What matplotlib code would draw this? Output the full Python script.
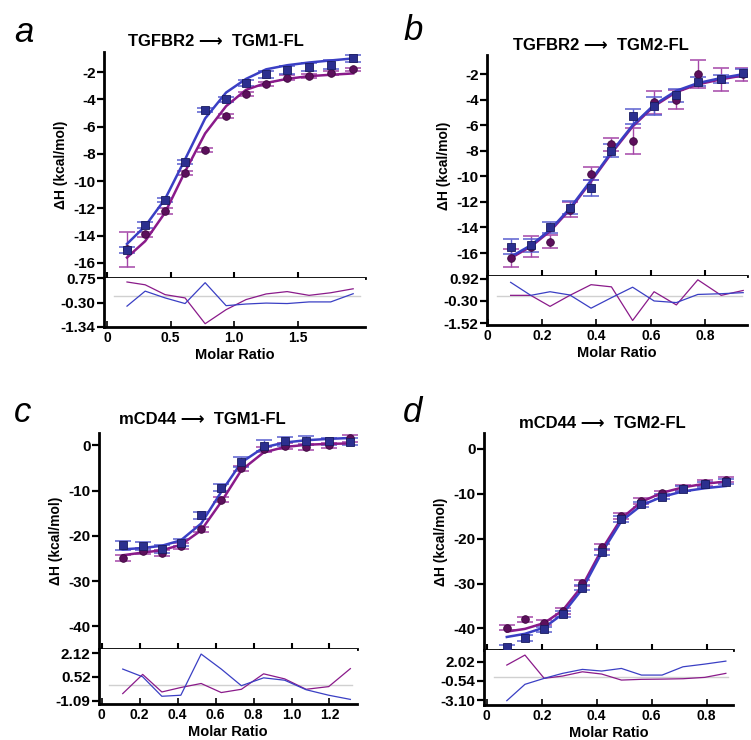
import matplotlib
matplotlib.use("Agg")
import matplotlib.pyplot as plt
import numpy as np

plt.rcParams['font.family'] = ['Liberation Sans', 'DejaVu Sans']
plt.rcParams['font.weight'] = 'bold'

BLUE_M = '#2b2f8f'
BLUE_L = '#3a3fc4'
BLUE_E = '#5a5fd0'
PURP_M = '#5c0f5c'
PURP_L = '#8a1a8a'
PURP_E = '#a446a8'

# ---- panel a : TGFBR2 -> TGM1-FL
a_x = [0.157, 0.30, 0.457, 0.614, 0.772, 0.937, 1.094, 1.252, 1.417, 1.59, 1.76, 1.937]
a_blue = [-15.05, -13.2, -11.4, -8.6, -4.8, -4.0, -2.8, -2.15, -1.85, -1.6, -1.45, -1.0]
a_blue_err = [0.25, 0.2, 0.15, 0.15, 0.15, 0.2, 0.2, 0.25, 0.3, 0.3, 0.3, 0.25]
a_blue_fit = [-14.6, -13.3, -11.3, -8.4, -5.4, -3.5, -2.5, -1.8, -1.5, -1.3, -1.15, -1.0]
a_blue_res = [-0.45, 0.19, -0.1, -0.34, 0.55, -0.43, -0.36, -0.32, -0.34, -0.27, -0.27, 0.08]
a_purp = [-15.0, -13.9, -12.2, -9.4, -7.7, -5.2, -3.6, -2.85, -2.4, -2.3, -2.05, -1.8]
a_purp_err = [1.3, 0.2, 0.2, 0.15, 0.15, 0.15, 0.15, 0.15, 0.15, 0.15, 0.15, 0.1]
a_purp_fit = [-15.6, -14.4, -12.3, -9.3, -6.5, -4.5, -3.3, -2.8, -2.5, -2.3, -2.2, -2.1]
a_purp_res = [0.58, 0.46, 0.04, -0.1, -1.2, -0.6, -0.17, 0.07, 0.17, 0.01, 0.12, 0.29]

# ---- panel b : TGFBR2 -> TGM2-FL
b_x = [0.084, 0.158, 0.229, 0.302, 0.38, 0.455, 0.533, 0.612, 0.694, 0.773, 0.859, 0.94]
b_blue = [-15.5, -15.4, -14.0, -12.45, -10.9, -8.0, -5.3, -4.5, -3.65, -2.6, -2.4, -1.9]
b_blue_err = [0.6, 0.5, 0.4, 0.5, 0.6, 0.5, 0.6, 0.7, 0.5, 0.35, 0.3, 0.3]
b_blue_fit = [-16.3, -15.4, -14.2, -12.5, -10.3, -8.1, -6.0, -4.4, -3.3, -2.7, -2.3, -2.0]
b_blue_res = [0.73, 0.01, 0.21, 0.03, -0.70, -0.12, 0.46, -0.30, -0.39, 0.06, 0.10, 0.16]
b_purp = [-16.4, -15.5, -15.1, -12.6, -9.8, -7.5, -7.25, -4.2, -4.0, -2.0, -2.4, -2.0]
b_purp_err = [0.7, 0.8, 0.5, 0.6, 0.5, 0.5, 1.0, 0.9, 0.75, 1.1, 0.9, 0.5]
b_purp_fit = [-16.4, -15.5, -14.3, -12.6, -10.4, -8.2, -6.1, -4.5, -3.4, -2.8, -2.4, -2.1]
b_purp_res = [0.01, 0.01, -0.6, 0.01, 0.6, 0.48, -1.38, 0.21, -0.52, 0.87, 0.01, 0.28]

# ---- panel c : mCD44 -> TGM1-FL
c_x = [0.111, 0.216, 0.317, 0.417, 0.524, 0.630, 0.736, 0.853, 0.964, 1.077, 1.196, 1.31]
c_blue = [-22.1, -22.3, -22.9, -21.5, -15.5, -9.4, -3.7, -0.1, 0.9, 1.0, 0.9, 0.8]
c_blue_err = [1.0, 0.9, 0.9, 0.8, 0.8, 0.8, 1.0, 1.2, 1.0, 1.0, 0.8, 0.8]
c_blue_fit = [-23.0, -22.7, -22.2, -21.0, -17.3, -10.3, -3.8, -0.5, 0.6, 1.1, 1.4, 1.6]
c_blue_res = [1.04, 0.52, -0.79, -0.72, 2.05, 1.04, -0.08, 0.45, 0.29, -0.35, -0.72, -1.0]
c_purp = [-24.9, -23.4, -23.8, -22.3, -18.6, -12.0, -5.1, -0.9, -0.2, -0.35, 0.0, 1.5]
c_purp_err = [0.7, 0.6, 0.6, 0.6, 0.6, 0.6, 0.6, 0.6, 0.6, 0.6, 0.6, 0.7]
c_purp_fit = [-24.3, -23.7, -23.2, -22.0, -18.8, -12.5, -5.5, -1.6, -0.4, 0.1, 0.3, 0.4]
c_purp_res = [-0.61, 0.68, -0.5, -0.2, 0.07, -0.54, -0.32, 0.72, 0.38, -0.32, -0.14, 1.07]

# ---- panel d : mCD44 -> TGM2-FL
d_x = [0.073, 0.139, 0.209, 0.276, 0.348, 0.418, 0.490, 0.563, 0.638, 0.714, 0.793, 0.870]
d_blue = [-44.2, -42.1, -40.2, -36.8, -30.9, -23.0, -15.6, -12.4, -10.7, -8.9, -7.9, -7.3]
d_blue_err = [0.6, 0.6, 0.6, 0.6, 0.6, 0.6, 0.6, 0.6, 0.6, 0.6, 0.6, 0.6]
d_blue_fit = [-41.9, -41.2, -39.8, -36.8, -31.2, -23.2, -16.1, -12.6, -10.7, -9.5, -8.8, -8.3]
d_blue_res = [-3.19, -1.0, -0.2, 0.47, 1.0, 0.78, 1.13, 0.24, 0.24, 1.35, 1.71, 2.11]
d_purp = [-39.8, -38.0, -38.7, -36.1, -29.9, -21.9, -15.0, -11.6, -9.9, -8.7, -7.6, -6.9]
d_purp_err = [0.6, 0.6, 0.6, 0.6, 0.6, 0.6, 0.6, 0.6, 0.6, 0.6, 0.6, 0.6]
d_purp_fit = [-40.7, -40.1, -38.8, -36.0, -30.5, -22.5, -15.5, -11.8, -9.8, -8.6, -7.8, -7.3]
d_purp_res = [1.58, 2.92, -0.20, 0.11, 0.68, 0.38, -0.43, -0.33, -0.3, -0.25, -0.07, 0.47]

W, H = 751, 740
fig = plt.figure(figsize=(W / 100, H / 100), dpi=100)


def rect(l, t, r, b):
    return [l / W, 1 - b / H, (r - l) / W, (b - t) / H]


def panel(box, split, resbot, x, blue, berr, bfit, bres, purp, perr, pfit, pres,
          xlim, xticks, xlabels, ylim, yticks, rlim, rticks, rlabels):
    l, t, r, b = box
    ax = fig.add_axes(rect(l, t, r, split))
    rax = fig.add_axes(rect(l, split, r, resbot))

    ax.errorbar(x, purp, yerr=perr, fmt='none', ecolor=PURP_E, elinewidth=1.0,
                capsize=5.5, capthick=1.1, zorder=2)
    ax.errorbar(x, blue, yerr=berr, fmt='none', ecolor=BLUE_E, elinewidth=1.0,
                capsize=5.5, capthick=1.1, zorder=2)
    ax.plot(x, pfit, color=PURP_L, lw=1.8, zorder=3)
    ax.plot(x, bfit, color=BLUE_L, lw=1.8, zorder=3)
    ax.plot(x, purp, 'o', color=PURP_M, ms=5.5, mec='#3d0a3d', mew=0.6, zorder=4)
    ax.plot(x, blue, 's', color=BLUE_M, ms=5.5, mec='#1a1c60', mew=0.6, zorder=5)

    ax.set_xlim(xlim)
    ax.set_ylim(ylim)
    ax.set_yticks(yticks)
    ax.set_yticklabels([str(v) for v in yticks])
    ax.set_xticks(xticks)
    ax.tick_params(axis='x', direction='inout', length=9, width=1.5, labelbottom=False)
    ax.tick_params(axis='y', direction='out', length=5, width=1.6, labelsize=11, pad=1)
    for s in ['top', 'right']:
        ax.spines[s].set_visible(False)
    ax.spines['left'].set_linewidth(2.0)
    ax.spines['bottom'].set_linewidth(2.0)
    ax.set_ylabel('ΔH (kcal/mol)', fontsize=10, fontweight='bold', labelpad=4)
    for lab in ax.get_yticklabels():
        lab.set_fontweight('bold')

    rax.axhline(0, xmin=0.04, xmax=0.98, color='#d0d0d0', lw=1.0, zorder=1)
    rax.plot(x, pres, color=PURP_L, lw=0.9, zorder=2)
    rax.plot(x, bres, color=BLUE_L, lw=0.9, zorder=3)
    rax.set_xlim(xlim)
    rax.set_ylim(rlim)
    rax.set_yticks(rticks)
    rax.set_yticklabels(rlabels)
    rax.set_xticks(xticks)
    rax.set_xticklabels(xlabels)
    rax.tick_params(axis='x', direction='in', length=4, width=1.2, labelsize=10, pad=3)
    rax.tick_params(axis='y', direction='out', length=5, width=1.6, labelsize=11, pad=1)
    for s in ['top', 'right']:
        rax.spines[s].set_visible(False)
    rax.spines['left'].set_linewidth(2.0)
    rax.spines['bottom'].set_linewidth(2.0)
    rax.set_xlabel('Molar Ratio', fontsize=10.5, fontweight='bold', labelpad=2)
    for lab in rax.get_yticklabels() + rax.get_xticklabels():
        lab.set_fontweight('bold')
    return ax, rax


panel((104, 52, 365, 0), 278, 327, a_x, a_blue, a_blue_err, a_blue_fit, a_blue_res,
      a_purp, a_purp_err, a_purp_fit, a_purp_res,
      (-0.024, 2.03), [0, 0.5, 1.0, 1.5], ['0', '0.5', '1.0', '1.5'],
      (-17.1, -0.53), [-2, -4, -6, -8, -10, -12, -14, -16],
      (-1.34, 0.75), [0.75, -0.30, -1.34], ['0.75', '-0.30', '-1.34'])

panel((487, 55, 747, 0), 276, 325, b_x, b_blue, b_blue_err, b_blue_fit, b_blue_res,
      b_purp, b_purp_err, b_purp_fit, b_purp_res,
      (-0.003, 0.954), [0, 0.2, 0.4, 0.6, 0.8], ['0', '0.2', '0.4', '0.6', '0.8'],
      (-17.8, -0.5), [-2, -4, -6, -8, -10, -12, -14, -16],
      (-1.63, 1.08), [0.92, -0.30, -1.52], ['0.92', '-0.30', '-1.52'])

panel((99, 433, 357, 0), 649, 704, c_x, c_blue, c_blue_err, c_blue_fit, c_blue_res,
      c_purp, c_purp_err, c_purp_fit, c_purp_res,
      (-0.014, 1.345), [0, 0.2, 0.4, 0.6, 0.8, 1.0, 1.2],
      ['0', '0.2', '0.4', '0.6', '0.8', '1.0', '1.2'],
      (-45, 2.7), [0, -10, -20, -30, -40],
      (-1.31, 2.39), [2.12, 0.52, -1.09], ['2.12', '0.52', '-1.09'])

panel((484, 433, 733, 0), 650, 705, d_x, d_blue, d_blue_err, d_blue_fit, d_blue_res,
      d_purp, d_purp_err, d_purp_fit, d_purp_res,
      (-0.01, 0.896), [0, 0.2, 0.4, 0.6, 0.8], ['0', '0.2', '0.4', '0.6', '0.8'],
      (-44.8, 3.5), [0, -10, -20, -30, -40],
      (-3.77, 3.6), [2.02, -0.54, -3.10], ['2.02', '-0.54', '-3.10'])

# titles and panel letters
titles = [('TGFBR2 ⟶  TGM1-FL', 216, 42), ('TGFBR2 ⟶  TGM2-FL', 601, 45),
          ('mCD44 ⟶  TGM1-FL', 202, 420), ('mCD44 ⟶  TGM2-FL', 602, 423)]
for txt, px, py in titles:
    fig.text(px / W, 1 - py / H, txt, ha='center', va='center', fontsize=12,
             fontweight='bold')

letters = [('a', 14, 33), ('b', 404, 30), ('c', 14, 413), ('d', 403, 413)]
for txt, px, py in letters:
    fig.text(px / W, 1 - py / H, txt, ha='left', va='center', fontsize=25,
             fontstyle='italic', fontweight='normal')

fig.savefig('out.png', dpi=100)
